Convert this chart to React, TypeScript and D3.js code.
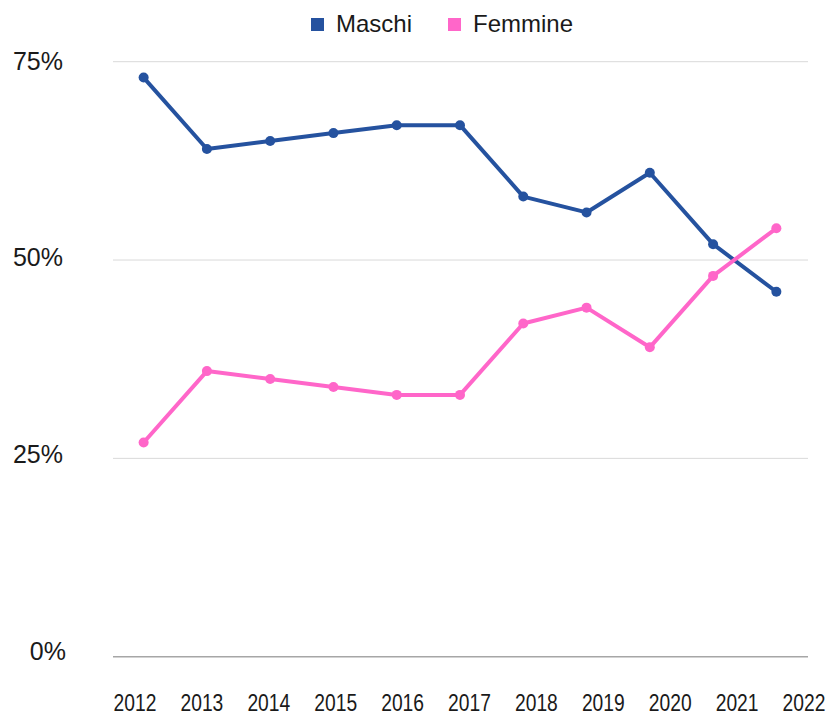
import React, { useEffect, useRef } from "react";
import * as d3 from "d3";

const years = ["2012", "2013", "2014", "2015", "2016", "2017", "2018", "2019", "2020", "2021", "2022"];
const maschi = [73, 64, 65, 66, 67, 67, 58, 56, 61, 52, 46];
const femmine = [27, 36, 35, 34, 33, 33, 42, 44, 39, 48, 54];
const yTicks = [0, 25, 50, 75];

const seriesNames = ["Maschi", "Femmine"];
const seriesColors = ["#25529f", "#ff66c9"];

function App() {
  const ref = useRef<SVGSVGElement | null>(null);

  useEffect(() => {
    const width = 838;
    const height = 717;
    const margin = { top: 62, right: 30, bottom: 59, left: 113 };

    const svg = d3.select(ref.current);
    svg.selectAll("*").remove();

    const xScale = d3
      .scalePoint()
      .domain(years)
      .range([margin.left - 1, width - margin.right])
      .padding(0.5);

    // the year labels in the original are spread a bit wider than the points
    const xLabel = d3.scalePoint().domain(years).range([135, 804]);

    const yScale = d3
      .scaleLinear()
      .domain([0, 75])
      .range([height - margin.bottom - 1.3, margin.top - 0.3]);

    const yLabel = d3.scaleLinear().domain([0, 75]).range([651, 61]);

    // gridlines
    svg
      .append("g")
      .selectAll("line")
      .data(yTicks)
      .join("line")
      .attr("x1", margin.left)
      .attr("x2", width - margin.right)
      .attr("y1", (d) => yScale(d))
      .attr("y2", (d) => yScale(d))
      .attr("stroke", (d) => (d === 0 ? "#a6a6a6" : "#d9d9d9"))
      .attr("stroke-width", (d) => (d === 0 ? 1.5 : 1));

    // y labels
    svg
      .append("g")
      .selectAll("text")
      .data(yTicks)
      .join("text")
      .attr("x", (d) => (d === 0 ? 66 : 63))
      .attr("y", (d) => yLabel(d))
      .attr("dy", "0.35em")
      .attr("text-anchor", "end")
      .attr("font-family", "'Liberation Sans', Arial, sans-serif")
      .attr("font-size", 25)
      .attr("fill", "#1a1a1a")
      .text((d) => d + "%");

    // x labels (narrow font in the original, squeezed horizontally here)
    svg
      .append("g")
      .selectAll("text")
      .data(years)
      .join("text")
      .attr("transform", (d) => `translate(${xLabel(d)},711) scale(0.82,1)`)
      .attr("text-anchor", "middle")
      .attr("font-family", "'Liberation Sans', Arial, sans-serif")
      .attr("font-size", 23.5)
      .attr("fill", "#1a1a1a")
      .text((d) => d);

    const line = d3
      .line<number>()
      .x((d, i) => xScale(years[i]))
      .y((d) => yScale(d));

    [maschi, femmine].forEach((values, k) => {
      svg
        .append("path")
        .attr("fill", "none")
        .attr("stroke", seriesColors[k])
        .attr("stroke-width", 4)
        .attr("stroke-linejoin", "round")
        .attr("stroke-linecap", "round")
        .attr("d", line(values));

      svg
        .append("g")
        .selectAll("circle")
        .data(values)
        .join("circle")
        .attr("cx", (d, i) => xScale(years[i]))
        .attr("cy", (d) => yScale(d))
        .attr("r", 5)
        .attr("fill", seriesColors[k]);
    });

    // legend
    const legendX = [311, 448];
    const legend = svg
      .append("g")
      .selectAll("g")
      .data(seriesNames)
      .join("g")
      .attr("transform", (d, i) => `translate(${legendX[i]},18)`);

    legend
      .append("rect")
      .attr("width", 13)
      .attr("height", 13)
      .attr("fill", (d, i) => seriesColors[i]);

    legend
      .append("text")
      .attr("x", 25)
      .attr("y", 13.5)
      .attr("font-family", "'Liberation Sans', Arial, sans-serif")
      .attr("font-size", 24)
      .attr("fill", "#1a1a1a")
      .text((d) => d);
  }, []);

  return (
    <div style={{ position: "absolute", left: 0, top: 0 }}>
      <svg ref={ref} width={838} height={717} style={{ display: "block" }} />
    </div>
  );
}

export default App;
